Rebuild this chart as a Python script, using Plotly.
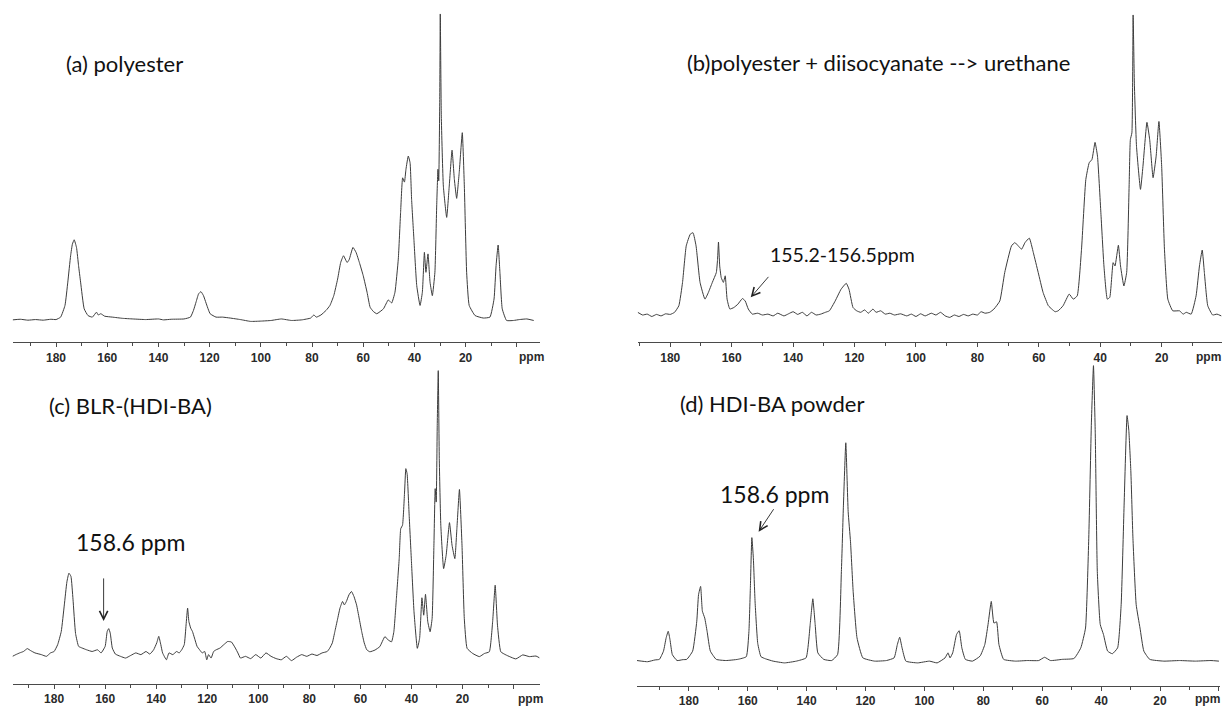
import plotly.graph_objects as go

# ---------------------------------------------------------------
# 13C solid-state NMR spectra (chemical shift in ppm, relative intensity,
# tallest peak of each spectrum = 100)
# ---------------------------------------------------------------

# (a) polyester
ppm_a = [196.9, 194, 191, 188, 185, 182, 180, 178.2, 176.5, 175.4, 174.3, 173.6, 172.9, 172.0,
         171.2, 170.4, 169.0, 167.5, 165.8, 164.2, 163.5, 162.5, 161, 158, 154, 150, 145, 140,
         138, 135, 130, 127.5, 126.3, 125.3, 124.3, 123.4, 122.4, 121.4, 119.8, 117.5, 115, 112,
         108, 104, 100, 96, 92, 88, 84, 80.5, 79.3, 78.3, 76.5, 74.5, 73, 71.5, 70, 68.8, 67.7,
         66.3, 65.5, 64, 62.8, 61.5, 60, 58.5, 57.3, 56, 54.7, 52.1, 50.2, 48.9, 47.6, 46.3,
         45.4, 44.6, 43.9, 43.3, 42.4, 41.7, 41.1, 40.2, 39.1, 37.8, 36.9, 36.1, 35.5, 34.7,
         33.9, 33.0, 32.0, 31.3, 30.8, 30.5, 30.1, 29.9, 29.5, 28.7, 27.4, 26.4, 25.3, 24.4,
         23.5, 22.5, 21.3, 20.5, 19.6, 18.6, 16.3, 13.1, 10.5, 8.9, 8.1, 7.3, 6.6, 5.7, 4.0,
         1.3, -1.0, -3.9, -6.6]
int_a = [0.3, 0.5, 0.2, 0.4, 0.2, 0.5, 0.4, 1.2, 5.0, 12.6, 21.2, 25.0, 26.4, 23.9,
         18.0, 12.6, 3.9, 1.7, 1.2, 2.8, 1.9, 2.3, 1.5, 1.2, 0.8, 0.6, 0.4, 0.6,
         0.3, 0.5, 0.6, 1.2, 3.4, 6.1, 8.8, 9.5, 8.2, 5.8, 2.3, 1.2, 1.2, 0.9,
         0.4, -0.2, -0.1, 0.1, 0.6, 0.1, 0.3, 0.9, 1.9, 1.2, 1.9, 3.4, 5.0, 8.2, 13.6, 19.0, 21.2,
         19.0, 19.9, 23.9, 22.3, 19.0, 14.7, 9.3, 4.4, 3.0, 2.3, 3.9, 6.8, 5.8, 9.3, 20.1,
         35.3, 46.6, 45.2, 49.4, 53.7, 51.5, 39.6, 26.6, 11.5, 5.0, 9.3, 22.3, 15.8, 21.8,
         12.6, 8.2, 15.8, 37.4, 49.4, 45.6, 72.1, 100, 66.7, 43.9, 33.7, 43.9, 55.6, 46.1,
         39.9, 48.3, 61.3, 43.9, 15.8, 5.0, 1.7, 0.9, 1.2, 7.1, 18.0, 24.7, 15.8, 3.9, 0.1,
         0.1, 0.4, 0.6, 0.1]

# (b) polyester + diisocyanate --> urethane
ppm_b = [190.6, 189, 187.5, 186, 184.5, 183, 181.5, 180, 178.6, 177.2, 176, 174.8, 173.5, 172.6,
         171.6, 170.3, 168.7, 167.6, 166.3, 165.0, 164.6, 164.3, 163.9, 163.4, 162.7, 162.1,
         161.5, 160.6, 159.3, 158, 156.5, 155.6, 154.6, 153.3, 151.5, 150, 148.2, 146.5, 145,
         143, 141.5, 140, 138.5, 137, 135.5, 134, 132.5, 131, 129.5, 128.2, 126.3, 124.4,
         122.7, 121.8, 120.5, 119.3, 118, 116.7, 115.5, 114, 113, 111.5, 110, 108.5, 107, 105,
         103, 101.5, 100, 98.5, 97, 95, 93.5, 92, 90.5, 89, 87.5, 86, 84.5, 83, 81.5, 80, 78.8,
         77.5, 76, 74.6, 72.7, 71.1, 68.9, 67.8, 66.7, 65.6, 64.5, 63.1, 61.8, 60.2, 58.6, 56.9,
         55.8, 54.7, 53.7, 52.1, 50.1, 48.8, 47.5, 46.1, 44.7, 43.6, 42.7, 41.7, 40.9, 39.8,
         38.8, 37.7, 36.9, 35.8, 35.2, 34.1, 33.4, 32.3, 31.4, 30.6, 30.2, 29.7, 29.3, 28.9,
         28.2, 26.9, 26.1, 24.8, 23.9, 22.8, 21.8, 20.9, 20.0, 19.1, 18.0, 16.4, 14.2, 13, 12,
         10.4, 8.8, 7.7, 6.8, 6.1, 5.0, 3.4, 2.0, 0.6]
int_b = [0.6, -0.3, 0, -0.8, -0.1, -0.6, 0.1, -0.1, 0.6, 2.8, 10.6, 22.8, 26.7, 27.2,
         22.8, 10.6, 5.0, 7.2, 10.6, 13.9, 18.3, 24.1, 16.1, 12.2, 10.6, 12.8,
         5.0, 1.7, 2.2, 3.3, 5.2, 4.4, 1.7, 0, 0.3, -0.3, 0, -0.6, 0.3,
         -0.6, 0.1, 0.8, -0.1, 0.6, -0.6, 0.6, -0.3, 0, 0.6, 1.1, 4.4, 8.3,
         10.3, 8.3, 2.2, 1.1, 0.6, 1.4, 0.3, 1.7, 0.6, 1.1, 0, 0.3, -0.3, 0.1,
         -0.6, 0, -0.8, 0.1, -0.6, 0.3, -0.3, 0.6, -0.6, -1.1, -0.3, -0.8, -0.1, -0.6, 0, -0.3, 0.8,
         0.3, 0.6, 1.7, 4.4, 13.9, 22.8, 23.9, 22.8, 21.7, 23.9, 25.4, 20.6, 13.9, 7.2, 2.8,
         1.7, 0.8, 1.1, 2.8, 6.7, 5.0, 6.1, 21.7, 45.0, 50.6, 51.7, 57.4, 52.8, 33.9,
         16.1, 5.0, 5.6, 17.2, 16.1, 23.0, 16.1, 9.4, 13.9, 42.8, 58.3, 60.6, 100, 77.2,
         56.1, 41.7, 49.4, 64.1, 58.3, 45.6, 52.8, 64.4, 49.4, 21.7, 5.0, 1.1, 1.1, 0, 0.6,
         0, 6.1, 16.1, 21.4, 13.9, 2.8, -0.3, 0, -0.6]

# (c) BLR-(HDI-BA)
ppm_c = [196.3, 195, 193.5, 192, 190.5, 189.2, 187.5, 185, 183, 181.4, 180, 178.6, 177.2, 176.0,
         175.0, 174.2, 173.4, 172.6, 171.6, 170.4, 169.0, 167.3, 165.1, 163, 161.6, 160, 159.2,
         158.6, 158, 157.2, 156, 154, 152, 150, 148, 146, 144, 142.5, 141, 139.8, 139, 138.2,
         137.5, 136, 135, 133.5, 132, 131, 130, 129, 128.3, 127.7, 127.2, 126.5, 125.8, 125,
         124, 123, 122, 121, 120.2, 119.5, 118.5, 117.5, 116.5, 115, 113.5, 112, 110.5, 109,
         108, 107, 105, 103, 101, 99, 97, 95, 93, 91, 89, 87, 85, 83, 81, 79, 77, 75, 73, 72,
         71, 70, 69, 68, 67, 66.3, 65.5, 64.5, 63.5, 62.5, 61.5, 60.5, 59.5, 58.5, 57.5, 56.3,
         54.3, 52.4, 50.4, 49.1, 47.8, 46.9, 45.9, 44.8, 44.2, 43.5, 42.7, 42.2, 41.7, 40.9,
         40.0, 39.0, 37.7, 36.8, 35.9, 35.2, 34.5, 33.6, 32.7, 31.9, 31.2, 30.7, 30.3, 29.9,
         29.5, 29.1, 28.5, 27.4, 26.4, 25.1, 24.1, 23.0, 22.2, 21.2, 20.2, 19.3, 18.2, 16,
         13.4, 11.4, 9.5, 8.2, 7.2, 6.3, 5.0, 3.0, -0.9, -3.6, -6.2, -8.8, -10.1]
int_c = [0.0, 0.6, 1.2, 1.7, 2.7, 2.0, 1.2, 0.6, 0, 1.2, 1.7, 4.1, 8.7, 18.0,
         26.0, 29.1, 28.0, 20.0, 8.0, 3.5, 2.9, 2.3, 1.7, 2.3, 1.2, 3.5, 8.7,
         9.7, 8.1, 2.9, 0.8, 0, -0.6, 0.3, 1.2, 0.6, 1.7, 0.8, 2.3, 4.7, 7.0, 4.1,
         1.2, -1.2, 1.2, 0.6, 1.7, 1.2, 2.3, 4.1, 11.0, 16.9, 12.2, 9.9, 8.7, 6.4,
         3.5, 2.3, 1.2, 1.7, -1.2, 0.6, -0.6, 1.7, 2.3, 2.9, 4.1, 5.2, 5.0, 2.9,
         1.2, -0.6, 0, -0.8, 0.6, -0.6, 1.2, 0, -0.8, -1.2, 0, -1.5, -0.3, 0.6, 0, 0.8, 0.3, 1.2, 1.7, 2.9,
         4.7, 8.7, 12.8, 16.9, 19.2, 18.0, 19.2, 21.5, 22.7, 20.9, 18.0, 13.4, 8.7, 4.7, 2.3, 1.6,
         2.2, 3.4, 6.9, 5.7, 5.1, 8.6, 20.3, 34.2, 44.7, 45.9, 57.5, 65.7, 63.9, 49.4,
         33.1, 15.6, 2.8, 6.3, 20.5, 14.4, 21.7, 12.1, 8.6, 13.3, 38.9, 58.7, 54.0, 80.8,
         100, 69.2, 45.9, 30.7, 35.4, 46.8, 38.9, 34.2, 44.7, 58.4, 38.9, 13.3, 2.8, 1.0,
         -0.1, 1.0, 1.6, 12.1, 24.9, 10.9, 1.6, 0.5, -0.9, 0.5, -0.1, 0.1, -0.5]

# (d) HDI-BA powder
ppm_d = [197.6, 194, 191.5, 190, 188.6, 187.7, 187.0, 186.4, 185.6, 184, 182, 180.7, 178.7, 177.3,
         176.7, 176.0, 175.4, 174.6, 173.8, 172.7, 170.7, 167.4, 163.4, 160.5, 159.6, 159.1,
         158.6, 158.1, 157.5, 156.6, 155.5, 154, 151.4, 147.5, 143.5, 140.2, 138.8, 137.9,
         137.1, 136.2, 134.2, 131.5, 129.5, 128.2, 127.5, 126.7, 125.9, 125.1, 124.2, 122.9,
         120.9, 116.9, 112.9, 110.3, 109.2, 108.4, 107.6, 106.3, 102.3, 98.3, 95.7, 93, 92,
         91.3, 90.4, 89.1, 88.2, 87.3, 86.1, 83.7, 81.1, 79.5, 78.4, 77.3, 76.4, 75.5, 74.7,
         73.1, 69.1, 65.1, 61.2, 59.2, 57.2, 53.2, 49.2, 46.9, 45.3, 44.2, 43.3, 42.6, 42.0,
         41.3, 40.3, 39.2, 37.8, 36.2, 34.4, 33.2, 32.2, 31.2, 30.6, 29.9, 29.2, 28.1, 26.8,
         25.5, 23.5, 18.7, 13.4, 8.0, 2.7, 0.0]
int_d = [0.2, -0.2, 0.4, 0.6, 3.4, 7.9, 10.1, 7.3, 2.2, 0.2, 0.5, 0.6, 3.4, 13.5,
         22.5, 25.3, 16.9, 14.6, 10.1, 3.4, 0.6, 0.2, 0.6, 1.5, 10.0, 25.0,
         41.8, 35.0, 20.0, 6.0, 1.5, 0.8, 0, -0.6, 0, 1.1, 12.4, 21.1,
         12.4, 2.8, 0.6, 0.2, 2.2, 30.3, 52.8, 73.9, 50.6, 40.4, 23.6, 7.9,
         1.1, 0, 0.2, 1.1, 5.6, 8.1, 4.5, 0, -0.6, 0, -0.6, 1.1, 2.8,
         1.1, 2.8, 9.0, 10.3, 4.5, 0.6, 0, 1.7, 5.6, 12.4, 20.2, 12.9, 13.3, 5.6,
         0.6, 0, 0.2, 0.2, 1.3, 0.2, 0.6, 0.9, 4.5, 11.2, 41.6, 80.9, 100, 77.5,
         30.3, 12.4, 9.0, 3.4, 2.5, 4.5, 19.1, 52.8, 83.1, 78.1, 64.0, 41.6, 19.1, 11.2,
         3.4, 0.6, 0, 0.2, 0, 0.2, 0]

# axis labelling
tick_major = [180, 160, 140, 120, 100, 80, 60, 40, 20, 0]
tick_text = ["180", "160", "140", "120", "100", "80", "60", "40", "20", ""]
tick_minor = [190, 170, 150, 130, 110, 90, 70, 50, 30, 10]

titles = ["(a) polyester", "(b)polyester + diisocyanate --> urethane",
          "(c) BLR-(HDI-BA)", "(d) HDI-BA powder"]

# ---------------------------------------------------------------
# page geometry (pixels)
# ---------------------------------------------------------------
W, H = 1222, 708

# x0/x1: ends of the ppm axis line, ppm0: shift at x0, k: px per ppm,
# axis_y: axis line, base_y: spectrum baseline, top_y: top of the tallest peak
panels = [
    dict(ppm=ppm_a, inten=int_a, x0=12.5, x1=540.0, ppm0=197.0, k=2.56,
         axis_y=343.3, base_y=321.7, top_y=14.0,
         title_x=64, title_y=64, ppm_x=531, ppm_y=358),
    dict(ppm=ppm_b, inten=int_b, x0=637.7, x1=1222.0, ppm0=190.6, k=3.0714,
         axis_y=343.3, base_y=315.0, top_y=15.0,
         title_x=685, title_y=63, ppm_x=1208, ppm_y=358),
    dict(ppm=ppm_c, inten=int_c, x0=12.5, x1=540.4, ppm0=196.3, k=2.5525,
         axis_y=686.0, base_y=658.2, top_y=371.7,
         title_x=47, title_y=407, ppm_x=530, ppm_y=700.7),
    dict(ppm=ppm_d, inten=int_d, x0=637.0, x1=1219.5, ppm0=197.6, k=2.945,
         axis_y=688.0, base_y=663.0, top_y=366.7,
         title_x=678, title_y=405, ppm_x=1207, ppm_y=700.7),
]

LINE = "#3c3c3c"
AXIS = "#4a4a4a"
TEXT_FONT = "Lato, 'Open Sans', sans-serif"
TICK_FONT = dict(family="Liberation Sans, Arial, sans-serif", size=12, color="#2a2a2a", weight="bold")

fig = go.Figure()
layout = dict(width=W, height=H, margin=dict(l=0, r=0, t=0, b=0), autosize=False,
              paper_bgcolor="white", plot_bgcolor="white", showlegend=False)
annotations = []

for i, p in enumerate(panels, start=1):
    xa = "x" if i == 1 else f"x{i}"
    ya = "y" if i == 1 else f"y{i}"
    fig.add_trace(go.Scatter(x=p["ppm"], y=p["inten"], mode="lines",
                             line=dict(color=LINE, width=1, shape="spline", smoothing=0.4),
                             xaxis=xa, yaxis=ya, hoverinfo="skip"))

    ppm_end = p["ppm0"] - (p["x1"] - p["x0"]) / p["k"]
    s = (p["base_y"] - p["top_y"]) / 100.0          # px per intensity unit
    head = 8.0
    y_lo = -(p["axis_y"] - p["base_y"]) / s
    y_hi = 100.0 + head / s

    layout[f"xaxis{i}" if i > 1 else "xaxis"] = dict(
        domain=[p["x0"] / W, p["x1"] / W],
        range=[p["ppm0"], ppm_end],
        anchor=ya,
        showline=True, linecolor=AXIS, linewidth=1,
        ticks="outside", ticklen=4, tickwidth=1, tickcolor=AXIS,
        tickmode="array", tickvals=tick_major, ticktext=tick_text,
        tickfont=TICK_FONT,
        minor=dict(tickmode="array", tickvals=tick_minor, ticks="outside",
                   ticklen=3, tickwidth=1, tickcolor=AXIS, showgrid=False),
        showgrid=False, zeroline=False, fixedrange=True,
    )
    layout[f"yaxis{i}" if i > 1 else "yaxis"] = dict(
        domain=[1 - p["axis_y"] / H, 1 - (p["top_y"] - head) / H],
        range=[y_lo, y_hi], anchor=xa, visible=False, fixedrange=True,
    )

    annotations.append(dict(text=titles[i - 1], xref="paper", yref="paper",
                            x=p["title_x"] / W, y=1 - p["title_y"] / H,
                            xanchor="left", yanchor="middle", showarrow=False,
                            font=dict(family=TEXT_FONT, size=22, color="#111111")))
    annotations.append(dict(text="ppm", xref="paper", yref="paper",
                            x=p["ppm_x"] / W, y=1 - p["ppm_y"] / H,
                            xanchor="center", yanchor="middle", showarrow=False,
                            font=TICK_FONT))

# peak call-outs
annotations += [
    dict(text="155.2-156.5ppm", xref="paper", yref="paper", x=842 / W, y=1 - 255 / H,
         xanchor="center", yanchor="middle", showarrow=False,
         font=dict(family=TEXT_FONT, size=19.5, color="#111111")),
    dict(text="", xref="x2", yref="y2", x=153.8, y=5.6, ax=19, ay=-22,
         showarrow=True, arrowhead=5, arrowsize=1.8, arrowwidth=0.9, arrowcolor="#222222"),
    dict(text="158.6 ppm", xref="paper", yref="paper", x=130 / W, y=1 - 543.3 / H,
         xanchor="center", yanchor="middle", showarrow=False,
         font=dict(family=TEXT_FONT, size=23, color="#111111")),
    dict(text="", xref="x3", yref="y3", x=160.6, y=12.4, ax=0, ay=-44,
         showarrow=True, arrowhead=5, arrowsize=1.8, arrowwidth=0.9, arrowcolor="#222222"),
    dict(text="158.6 ppm", xref="paper", yref="paper", x=774 / W, y=1 - 495 / H,
         xanchor="center", yanchor="middle", showarrow=False,
         font=dict(family=TEXT_FONT, size=23, color="#111111")),
    dict(text="", xref="x4", yref="y4", x=156.3, y=43.8, ax=16, ay=-24,
         showarrow=True, arrowhead=5, arrowsize=1.8, arrowwidth=0.9, arrowcolor="#222222"),
]
layout["annotations"] = annotations

fig.update_layout(**layout)
fig.write_html("out.html", config={"displayModeBar": False})
